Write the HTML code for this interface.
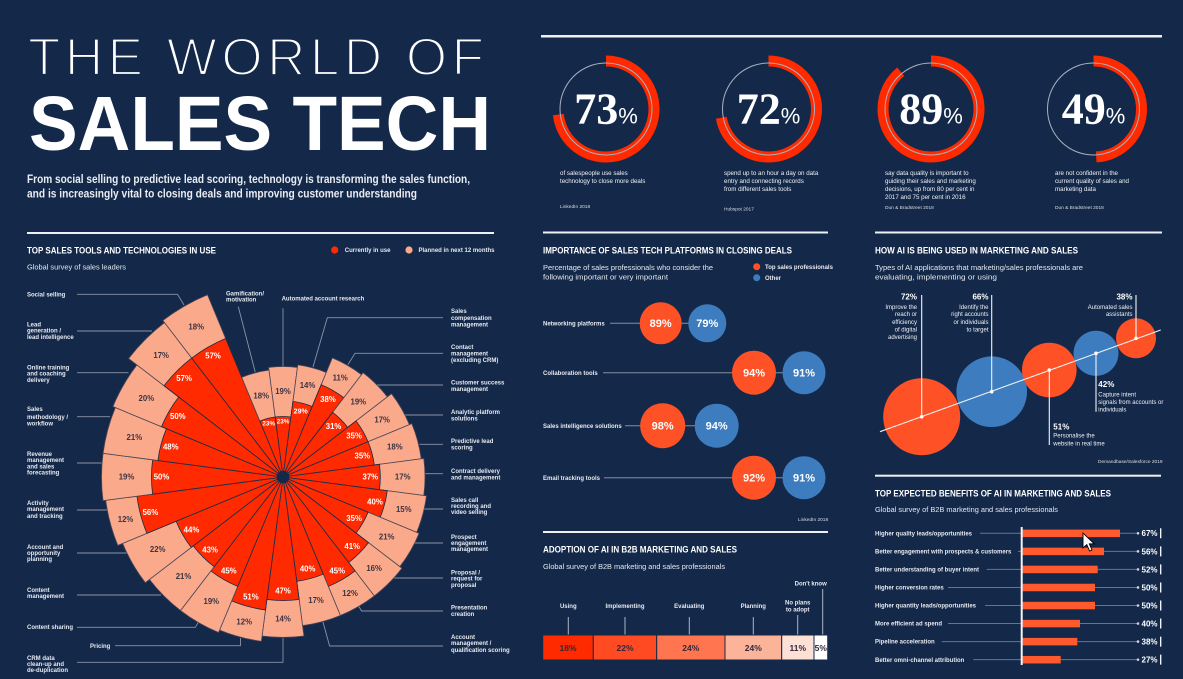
<!DOCTYPE html>
<html><head><meta charset="utf-8">
<style>
html,body{margin:0;padding:0;background:#14294a;}
svg{display:block;}
text{font-family:"Liberation Sans",sans-serif;}
.h{font-size:9.3px;font-weight:bold;fill:#fff;}
.s{font-size:7px;fill:#e4e8ee;}
.l{font-size:6px;font-weight:bold;fill:#e6e9ef;}
.n{font-size:6.2px;fill:#eef1f5;}
.src{font-size:4.8px;fill:#d9dee6;}
.ln{stroke:#8a93a3;stroke-width:0.9;fill:none;}
.ln2{stroke:#66738a;stroke-width:1.3;fill:none;}
.pe{fill:#fba98b;stroke:#4a4656;stroke-width:0.8;}
.re{fill:#ff2a00;stroke:#1b2a45;stroke-width:0.8;}
.pl{font-size:7.8px;font-weight:bold;fill:#3b3443;text-anchor:middle;}
.rl{font-size:7.8px;font-weight:bold;fill:#fff;text-anchor:middle;}
.bt{font-size:11px;font-weight:bold;fill:#fff;text-anchor:middle;}
.al{font-size:6px;font-weight:bold;fill:#e6e9ef;text-anchor:middle;}
.av{font-size:8.5px;font-weight:bold;fill:#33283a;text-anchor:middle;}
.vt{font-size:8px;font-weight:bold;fill:#fff;}
.ct{font-size:8px;font-weight:bold;fill:#fff;}
.cn{font-size:6px;fill:#eef1f5;}
.big{font-family:"Liberation Serif",serif;font-weight:bold;font-size:44px;fill:#fff;}
</style></head><body>
<svg width="1183" height="679" viewBox="0 0 1183 679" xmlns="http://www.w3.org/2000/svg">
<rect width="1183" height="679" fill="#14294a"/>

<!-- HEADER -->
<text x="28" y="75" font-size="53" textLength="456" lengthAdjust="spacing" fill="#fff" stroke="#14294a" stroke-width="2.2">THE WORLD OF</text>
<text x="29" y="150" font-size="77" font-weight="bold" textLength="462" lengthAdjust="spacingAndGlyphs" fill="#fff">SALES TECH</text>
<text x="27" y="183" font-size="11.5" font-weight="bold" fill="#e9ecf1" textLength="443" lengthAdjust="spacingAndGlyphs">From social selling to predictive lead scoring, technology is transforming the sales function,</text>
<text x="27" y="197.5" font-size="11.5" font-weight="bold" fill="#e9ecf1" textLength="390" lengthAdjust="spacingAndGlyphs">and is increasingly vital to closing deals and improving customer understanding</text>

<rect x="541" y="35" width="621" height="2.5" fill="#eef0f3"/>

<!-- DONUTS -->
<g fill="none">
<circle cx="606" cy="109" r="48" stroke="#ff2a00" stroke-width="11" stroke-dasharray="220.2 400" transform="rotate(-90 606 109)"/>
<circle cx="606" cy="109" r="46" stroke="#aab2bf" stroke-width="1"/>
<circle cx="768.5" cy="109" r="48" stroke="#ff2a00" stroke-width="11" stroke-dasharray="217.1 400" transform="rotate(-90 768.5 109)"/>
<circle cx="768.5" cy="109" r="46" stroke="#aab2bf" stroke-width="1"/>
<circle cx="931" cy="109" r="48" stroke="#ff2a00" stroke-width="11" stroke-dasharray="268.4 400" transform="rotate(-90 931 109)"/>
<circle cx="931" cy="109" r="46" stroke="#aab2bf" stroke-width="1"/>
<circle cx="1093.5" cy="109" r="48" stroke="#ff2a00" stroke-width="11" stroke-dasharray="147.8 400" transform="rotate(-90 1093.5 109)"/>
<circle cx="1093.5" cy="109" r="46" stroke="#aab2bf" stroke-width="1"/>
</g>
<text class="big" x="606" y="123.5" text-anchor="middle">73<tspan font-size="22" font-family="Liberation Sans" font-weight="normal">%</tspan></text>
<text class="big" x="768.5" y="123.5" text-anchor="middle">72<tspan font-size="22" font-family="Liberation Sans" font-weight="normal">%</tspan></text>
<text class="big" x="931" y="123.5" text-anchor="middle">89<tspan font-size="22" font-family="Liberation Sans" font-weight="normal">%</tspan></text>
<text class="big" x="1093.5" y="123.5" text-anchor="middle">49<tspan font-size="22" font-family="Liberation Sans" font-weight="normal">%</tspan></text>

<text class="n" x="560" y="175">of salespeople use sales</text>
<text class="n" x="560" y="183">technology to close more deals</text>
<text class="src" x="560" y="208">LinkedIn 2018</text>

<text class="n" x="724" y="175">spend up to an hour a day on data</text>
<text class="n" x="724" y="183">entry and connecting records</text>
<text class="n" x="724" y="191">from different sales tools</text>
<text class="src" x="724" y="210.5">Hubspot 2017</text>

<text class="n" x="885" y="175">say data quality is important to</text>
<text class="n" x="885" y="183">guiding their sales and marketing</text>
<text class="n" x="885" y="191">decisions, up from 80 per cent in</text>
<text class="n" x="885" y="199">2017 and 75 per cent in 2016</text>
<text class="src" x="885" y="209">Dun &amp; Bradstreet 2018</text>

<text class="n" x="1055" y="175">are not confident in the</text>
<text class="n" x="1055" y="183">current quality of sales and</text>
<text class="n" x="1055" y="191">marketing data</text>
<text class="src" x="1055" y="209">Dun &amp; Bradstreet 2018</text>

<!-- LEFT SECTION -->
<rect x="27" y="232" width="467" height="2" fill="#eef0f3"/>
<text class="h" x="27" y="253.5" textLength="189" lengthAdjust="spacingAndGlyphs">TOP SALES TOOLS AND TECHNOLOGIES IN USE</text>
<circle cx="334.7" cy="250" r="3.6" fill="#ff2a00"/>
<text class="l" x="344.8" y="252.2">Currently in use</text>
<circle cx="409" cy="250" r="3.6" fill="#fba98b"/>
<text class="l" x="418.5" y="252.2">Planned in next 12 months</text>
<text class="s" x="27" y="269.5" textLength="99" lengthAdjust="spacingAndGlyphs">Global survey of sales leaders</text>

<!-- leader lines -->
<path class="ln" d="M77 294.3H177.5L184 305"/>
<path class="ln" d="M77 331H152"/>
<path class="ln" d="M77 372.7H128.5"/>
<path class="ln" d="M77 416.7H110"/>
<path class="ln" d="M77 463H101.5"/>
<path class="ln" d="M77 510H107"/>
<path class="ln" d="M77 553H127"/>
<path class="ln" d="M77 595H161"/>
<path class="ln" d="M77 627.3H195.4L199.5 620"/>
<path class="ln" d="M115 645.7H240.5V638"/>
<path class="ln" d="M77 662.3H283V638"/>
<path class="ln" d="M238.3 306.7L255.2 372"/>
<path class="ln" d="M283 308.3V366.5"/>
<path class="ln" d="M443 317.7H327.3L313 367"/>
<path class="ln" d="M443 353.3H355L348 364.5"/>
<path class="ln" d="M443 385H376"/>
<path class="ln" d="M443 415H404"/>
<path class="ln" d="M443 444.3H419.5"/>
<path class="ln" d="M443 473.7H425"/>
<path class="ln" d="M443 509H423"/>
<path class="ln" d="M443 543H414"/>
<path class="ln" d="M443 578H393"/>
<path class="ln" d="M443 611H361.7L358.5 606"/>
<path class="ln" d="M443 646H329.6L323 622"/>

<!-- left labels -->
<text class="l" x="27" y="296.4">Social selling</text>
<text class="l" x="27" y="326.4">Lead</text>
<text class="l" x="27" y="332.4">generation /</text>
<text class="l" x="27" y="338.8">lead intelligence</text>
<text class="l" x="27" y="369.4">Online training</text>
<text class="l" x="27" y="375.4">and coaching</text>
<text class="l" x="27" y="382.1">delivery</text>
<text class="l" x="27" y="411.1">Sales</text>
<text class="l" x="27" y="418.8">methodology /</text>
<text class="l" x="27" y="425.4">workflow</text>
<text class="l" x="27" y="456.1">Revenue</text>
<text class="l" x="27" y="462.1">management</text>
<text class="l" x="27" y="468.4">and sales</text>
<text class="l" x="27" y="474.4">forecasting</text>
<text class="l" x="27" y="505.1">Activity</text>
<text class="l" x="27" y="511.1">management</text>
<text class="l" x="27" y="517.8">and tracking</text>
<text class="l" x="27" y="548.8">Account and</text>
<text class="l" x="27" y="555.1">opportunity</text>
<text class="l" x="27" y="561.1">planning</text>
<text class="l" x="27" y="591.8">Content</text>
<text class="l" x="27" y="597.8">management</text>
<text class="l" x="27" y="628.8">Content sharing</text>
<text class="l" x="90" y="647.8">Pricing</text>
<text class="l" x="27" y="660.1">CRM data</text>
<text class="l" x="27" y="666.1">clean-up and</text>
<text class="l" x="27" y="671.8">de-duplication</text>

<text class="l" x="226" y="295.4">Gamification/</text>
<text class="l" x="226" y="301.4">motivation</text>
<text class="l" x="281.6" y="300.4">Automated account research</text>

<text class="l" x="451" y="313.1">Sales</text>
<text class="l" x="451" y="319.8">compensation</text>
<text class="l" x="451" y="326.4">management</text>
<text class="l" x="451" y="348.8">Contact</text>
<text class="l" x="451" y="355.4">management</text>
<text class="l" x="451" y="362.1">(excluding CRM)</text>
<text class="l" x="451" y="384.4">Customer success</text>
<text class="l" x="451" y="391.1">management</text>
<text class="l" x="451" y="413.8">Analytic platform</text>
<text class="l" x="451" y="420.4">solutions</text>
<text class="l" x="451" y="443.1">Predictive lead</text>
<text class="l" x="451" y="449.4">scoring</text>
<text class="l" x="451" y="472.8">Contract delivery</text>
<text class="l" x="451" y="479.4">and management</text>
<text class="l" x="451" y="501.8">Sales call</text>
<text class="l" x="451" y="507.8">recording and</text>
<text class="l" x="451" y="513.8">video selling</text>
<text class="l" x="451" y="538.8">Prospect</text>
<text class="l" x="451" y="545.1">engagement</text>
<text class="l" x="451" y="551.1">management</text>
<text class="l" x="451" y="574.4">Proposal /</text>
<text class="l" x="451" y="580.4">request for</text>
<text class="l" x="451" y="587.1">proposal</text>
<text class="l" x="451" y="609.4">Presentation</text>
<text class="l" x="451" y="616.1">creation</text>
<text class="l" x="451" y="638.8">Account</text>
<text class="l" x="451" y="645.1">management /</text>
<text class="l" x="451" y="651.8">qualification scoring</text>

<!-- RADIAL CHART -->
<g transform="translate(283 477)">
<g transform="rotate(0)"><path class="pe" d="M0 0L-14.42 -109.55A110.5 110.5 0 0 1 14.42 -109.55Z"/><path class="re" d="M0 0L-7.9 -59.98A60.5 60.5 0 0 1 7.9 -59.98Z"/><text class="pl" transform="translate(0 -85.5) rotate(0)" y="2.7">19%</text><text class="rl" style="font-size:6.3px" transform="translate(0 -55.5) rotate(0)" y="2.2">23%</text></g>
<g transform="rotate(15)"><path class="pe" d="M0 0L-14.76 -112.13A113.1 113.1 0 0 1 14.76 -112.13Z"/><path class="re" d="M0 0L-9.96 -75.65A76.3 76.3 0 0 1 9.96 -75.65Z"/><text class="pl" transform="translate(0 -94.7) rotate(-15)" y="2.7">14%</text><text class="rl" style="font-size:7px" transform="translate(0 -68.3) rotate(-15)" y="2.4">29%</text></g>
<g transform="rotate(30)"><path class="pe" d="M0 0L-16.83 -127.8A128.9 128.9 0 0 1 16.83 -127.8Z"/><path class="re" d="M0 0L-13.04 -99.04A99.9 99.9 0 0 1 13.04 -99.04Z"/><text class="pl" transform="translate(0 -114.4) rotate(-30)" y="2.7">11%</text><text class="rl" transform="translate(0 -89.9) rotate(-30)" y="2.7">38%</text></g>
<g transform="rotate(45)"><path class="pe" d="M0 0L-17.16 -130.38A131.5 131.5 0 0 1 17.16 -130.38Z"/><path class="re" d="M0 0L-10.64 -80.8A81.5 81.5 0 0 1 10.64 -80.8Z"/><text class="pl" transform="translate(0 -106.5) rotate(-45)" y="2.7">19%</text><text class="rl" transform="translate(0 -71.5) rotate(-45)" y="2.7">31%</text></g>
<g transform="rotate(60)"><path class="pe" d="M0 0L-17.86 -135.63A136.8 136.8 0 0 1 17.86 -135.63Z"/><path class="re" d="M0 0L-12.02 -91.31A92.1 92.1 0 0 1 12.02 -91.31Z"/><text class="pl" transform="translate(0 -114.5) rotate(-60)" y="2.7">17%</text><text class="rl" transform="translate(0 -82.1) rotate(-60)" y="2.7">35%</text></g>
<g transform="rotate(75)"><path class="pe" d="M0 0L-18.2 -138.21A139.4 139.4 0 0 1 18.2 -138.21Z"/><path class="re" d="M0 0L-12.02 -91.31A92.1 92.1 0 0 1 12.02 -91.31Z"/><text class="pl" transform="translate(0 -115.8) rotate(-75)" y="2.7">18%</text><text class="rl" transform="translate(0 -82.1) rotate(-75)" y="2.7">35%</text></g>
<g transform="rotate(90)"><path class="pe" d="M0 0L-18.54 -140.78A142 142 0 0 1 18.54 -140.78Z"/><path class="re" d="M0 0L-12.7 -96.47A97.3 97.3 0 0 1 12.7 -96.47Z"/><text class="pl" transform="translate(0 -119.7) rotate(-90)" y="2.7">17%</text><text class="rl" transform="translate(0 -87.3) rotate(-90)" y="2.7">37%</text></g>
<g transform="rotate(105)"><path class="pe" d="M0 0L-18.89 -143.46A144.7 144.7 0 0 1 18.89 -143.46Z"/><path class="re" d="M0 0L-13.73 -104.3A105.2 105.2 0 0 1 13.73 -104.3Z"/><text class="pl" transform="translate(0 -125) rotate(-105)" y="2.7">15%</text><text class="rl" transform="translate(0 -95.2) rotate(-105)" y="2.7">40%</text></g>
<g transform="rotate(120)"><path class="pe" d="M0 0L-19.23 -146.04A147.3 147.3 0 0 1 19.23 -146.04Z"/><path class="re" d="M0 0L-12.02 -91.31A92.1 92.1 0 0 1 12.02 -91.31Z"/><text class="pl" transform="translate(0 -119.7) rotate(-120)" y="2.7">21%</text><text class="rl" transform="translate(0 -82.1) rotate(-120)" y="2.7">35%</text></g>
<g transform="rotate(135)"><path class="pe" d="M0 0L-19.57 -148.62A149.9 149.9 0 0 1 19.57 -148.62Z"/><path class="re" d="M0 0L-14.07 -106.88A107.8 107.8 0 0 1 14.07 -106.88Z"/><text class="pl" transform="translate(0 -128.9) rotate(-135)" y="2.7">16%</text><text class="rl" transform="translate(0 -97.8) rotate(-135)" y="2.7">41%</text></g>
<g transform="rotate(150)"><path class="pe" d="M0 0L-19.57 -148.62A149.9 149.9 0 0 1 19.57 -148.62Z"/><path class="re" d="M0 0L-15.45 -117.39A118.4 118.4 0 0 1 15.45 -117.39Z"/><text class="pl" transform="translate(0 -134.2) rotate(-150)" y="2.7">12%</text><text class="rl" transform="translate(0 -108.4) rotate(-150)" y="2.7">45%</text></g>
<g transform="rotate(165)"><path class="pe" d="M0 0L-19.57 -148.62A149.9 149.9 0 0 1 19.57 -148.62Z"/><path class="re" d="M0 0L-13.73 -104.3A105.2 105.2 0 0 1 13.73 -104.3Z"/><text class="pl" transform="translate(0 -127.6) rotate(-165)" y="2.7">17%</text><text class="rl" transform="translate(0 -95.2) rotate(-165)" y="2.7">40%</text></g>
<g transform="rotate(180)"><path class="pe" d="M0 0L-20.94 -159.03A160.4 160.4 0 0 1 20.94 -159.03Z"/><path class="re" d="M0 0L-16.13 -122.54A123.6 123.6 0 0 1 16.13 -122.54Z"/><text class="pl" transform="translate(0 -142) rotate(-180)" y="2.7">14%</text><text class="rl" transform="translate(0 -113.6) rotate(-180)" y="2.7">47%</text></g>
<g transform="rotate(195)"><path class="pe" d="M0 0L-21.63 -164.28A165.7 165.7 0 0 1 21.63 -164.28Z"/><path class="re" d="M0 0L-17.5 -132.95A134.1 134.1 0 0 1 17.5 -132.95Z"/><text class="pl" transform="translate(0 -149.9) rotate(-195)" y="2.7">12%</text><text class="rl" transform="translate(0 -124.1) rotate(-195)" y="2.7">51%</text></g>
<g transform="rotate(210)"><path class="pe" d="M0 0L-21.97 -166.86A168.3 168.3 0 0 1 21.97 -166.86Z"/><path class="re" d="M0 0L-15.45 -117.39A118.4 118.4 0 0 1 15.45 -117.39Z"/><text class="pl" transform="translate(0 -143.4) rotate(-210)" y="2.7">19%</text><text class="rl" transform="translate(0 -108.4) rotate(-210)" y="2.7">45%</text></g>
<g transform="rotate(225)"><path class="pe" d="M0 0L-21.97 -166.86A168.3 168.3 0 0 1 21.97 -166.86Z"/><path class="re" d="M0 0L-14.76 -112.13A113.1 113.1 0 0 1 14.76 -112.13Z"/><text class="pl" transform="translate(0 -140.7) rotate(-225)" y="2.7">21%</text><text class="rl" transform="translate(0 -103.1) rotate(-225)" y="2.7">43%</text></g>
<g transform="rotate(240)"><path class="pe" d="M0 0L-22.66 -172.11A173.6 173.6 0 0 1 22.66 -172.11Z"/><path class="re" d="M0 0L-15.1 -114.71A115.7 115.7 0 0 1 15.1 -114.71Z"/><text class="pl" transform="translate(0 -144.7) rotate(-240)" y="2.7">22%</text><text class="rl" transform="translate(0 -105.7) rotate(-240)" y="2.7">44%</text></g>
<g transform="rotate(255)"><path class="pe" d="M0 0L-23.34 -177.27A178.8 178.8 0 0 1 23.34 -177.27Z"/><path class="re" d="M0 0L-19.23 -146.04A147.3 147.3 0 0 1 19.23 -146.04Z"/><text class="pl" transform="translate(0 -163) rotate(-255)" y="2.7">12%</text><text class="rl" transform="translate(0 -137.3) rotate(-255)" y="2.7">56%</text></g>
<g transform="rotate(270)"><path class="pe" d="M0 0L-23.69 -179.95A181.5 181.5 0 0 1 23.69 -179.95Z"/><path class="re" d="M0 0L-17.16 -130.38A131.5 131.5 0 0 1 17.16 -130.38Z"/><text class="pl" transform="translate(0 -156.5) rotate(-270)" y="2.7">19%</text><text class="rl" transform="translate(0 -121.5) rotate(-270)" y="2.7">50%</text></g>
<g transform="rotate(285)"><path class="pe" d="M0 0L-23.69 -179.95A181.5 181.5 0 0 1 23.69 -179.95Z"/><path class="re" d="M0 0L-16.47 -125.12A126.2 126.2 0 0 1 16.47 -125.12Z"/><text class="pl" transform="translate(0 -153.9) rotate(-285)" y="2.7">21%</text><text class="rl" transform="translate(0 -116.2) rotate(-285)" y="2.7">48%</text></g>
<g transform="rotate(300)"><path class="pe" d="M0 0L-24.03 -182.52A184.1 184.1 0 0 1 24.03 -182.52Z"/><path class="re" d="M0 0L-17.16 -130.38A131.5 131.5 0 0 1 17.16 -130.38Z"/><text class="pl" transform="translate(0 -157.8) rotate(-300)" y="2.7">20%</text><text class="rl" transform="translate(0 -121.5) rotate(-300)" y="2.7">50%</text></g>
<g transform="rotate(315)"><path class="pe" d="M0 0L-25.4 -192.93A194.6 194.6 0 0 1 25.4 -192.93Z"/><path class="re" d="M0 0L-19.57 -148.62A149.9 149.9 0 0 1 19.57 -148.62Z"/><text class="pl" transform="translate(0 -172.3) rotate(-315)" y="2.7">17%</text><text class="rl" transform="translate(0 -139.9) rotate(-315)" y="2.7">57%</text></g>
<g transform="rotate(330)"><path class="pe" d="M0 0L-25.75 -195.61A197.3 197.3 0 0 1 25.75 -195.61Z"/><path class="re" d="M0 0L-19.57 -148.62A149.9 149.9 0 0 1 19.57 -148.62Z"/><text class="pl" transform="translate(0 -173.6) rotate(-330)" y="2.7">18%</text><text class="rl" transform="translate(0 -139.9) rotate(-330)" y="2.7">57%</text></g>
<g transform="rotate(345)"><path class="pe" d="M0 0L-14.07 -106.88A107.8 107.8 0 0 1 14.07 -106.88Z"/><path class="re" d="M0 0L-7.9 -59.98A60.5 60.5 0 0 1 7.9 -59.98Z"/><text class="pl" transform="translate(0 -84.2) rotate(-345)" y="2.7">18%</text><text class="rl" style="font-size:6.3px" transform="translate(0 -55.5) rotate(-345)" y="2.2">23%</text></g>
<circle cx="0" cy="0" r="6.3" fill="#14294a"/>
</g>

<!-- MIDDLE: IMPORTANCE -->
<rect x="543" y="231.5" width="285" height="2" fill="#eef0f3"/>
<text class="h" x="543" y="253.5" textLength="249" lengthAdjust="spacingAndGlyphs">IMPORTANCE OF SALES TECH PLATFORMS IN CLOSING DEALS</text>
<text class="s" x="543" y="270" textLength="170" lengthAdjust="spacingAndGlyphs">Percentage of sales professionals who consider the</text>
<text class="s" x="543" y="279.3" textLength="125" lengthAdjust="spacingAndGlyphs">following important or very important</text>
<circle cx="756.7" cy="266.7" r="3.5" fill="#ff5126"/>
<text class="l" x="765" y="268.8">Top sales professionals</text>
<circle cx="756.7" cy="277.7" r="3.5" fill="#3d7dbf"/>
<text class="l" x="765" y="279.8">Other</text>

<text class="l" x="543" y="325.4">Networking platforms</text>
<path class="ln2" d="M610 323.3H707"/>
<circle cx="660.7" cy="323.3" r="21" fill="#ff5126"/>
<circle cx="707.3" cy="323.3" r="19" fill="#3d7dbf"/>
<text class="bt" x="660.7" y="327.2">89%</text>
<text class="bt" x="707.3" y="327.2">79%</text>

<text class="l" x="543" y="374.8">Collaboration tools</text>
<path class="ln2" d="M603 372.7H804"/>
<circle cx="754" cy="372.7" r="22" fill="#ff5126"/>
<circle cx="804" cy="372.7" r="21.5" fill="#3d7dbf"/>
<text class="bt" x="754" y="376.6">94%</text>
<text class="bt" x="804" y="376.6">91%</text>

<text class="l" x="543" y="427.8">Sales intelligence solutions</text>
<path class="ln2" d="M625 425.7H717"/>
<circle cx="662.7" cy="425.7" r="22.5" fill="#ff5126"/>
<circle cx="716.7" cy="425.7" r="22" fill="#3d7dbf"/>
<text class="bt" x="662.7" y="429.6">98%</text>
<text class="bt" x="716.7" y="429.6">94%</text>

<text class="l" x="543" y="479.8">Email tracking tools</text>
<path class="ln2" d="M604 477.7H804"/>
<circle cx="754" cy="477.7" r="22" fill="#ff5126"/>
<circle cx="804" cy="477.7" r="21.5" fill="#3d7dbf"/>
<text class="bt" x="754" y="481.6">92%</text>
<text class="bt" x="804" y="481.6">91%</text>
<text class="src" x="798" y="521">LinkedIn 2018</text>

<!-- MIDDLE: ADOPTION -->
<rect x="543" y="531" width="285" height="2" fill="#eef0f3"/>
<text class="h" x="543" y="552.5" textLength="194" lengthAdjust="spacingAndGlyphs">ADOPTION OF AI IN B2B MARKETING AND SALES</text>
<text class="s" x="543" y="569" textLength="182" lengthAdjust="spacingAndGlyphs">Global survey of B2B marketing and sales professionals</text>
<text class="al" x="568.3" y="608">Using</text>
<text class="al" x="625" y="608">Implementing</text>
<text class="al" x="689.3" y="608">Evaluating</text>
<text class="al" x="753.3" y="608">Planning</text>
<text class="al" x="797.7" y="604.5">No plans</text>
<text class="al" x="797.7" y="611.5">to adopt</text>
<text class="al" x="810.7" y="585.5">Don't know</text>
<g stroke="#aeb5c2" stroke-width="1">
<path d="M568.3 617V635M625 617V635M689.3 617V635M753.3 617V635M797.7 615V635M822.7 589V635"/>
</g>
<g stroke="#14294a" stroke-width="1">
<rect x="542.7" y="635" width="50.6" height="25" fill="#ff2a00"/>
<rect x="593.3" y="635" width="63.4" height="25" fill="#ff4a22"/>
<rect x="656.7" y="635" width="68.3" height="25" fill="#ff7550"/>
<rect x="725" y="635" width="56.7" height="25" fill="#fbb39a"/>
<rect x="781.7" y="635" width="32.3" height="25" fill="#fde1d6"/>
<rect x="814" y="635" width="13.7" height="25" fill="#ffffff"/>
</g>
<text class="av" x="568" y="651">18%</text>
<text class="av" x="625" y="651">22%</text>
<text class="av" x="690.8" y="651">24%</text>
<text class="av" x="753.3" y="651">24%</text>
<text class="av" x="797.8" y="651">11%</text>
<text class="av" x="820.8" y="651">5%</text>

<!-- RIGHT: HOW AI -->
<rect x="875" y="231.5" width="287" height="2" fill="#eef0f3"/>
<text class="h" x="875" y="253.5" textLength="203" lengthAdjust="spacingAndGlyphs">HOW AI IS BEING USED IN MARKETING AND SALES</text>
<text class="s" x="875" y="270" textLength="208" lengthAdjust="spacingAndGlyphs">Types of AI applications that marketing/sales professionals are</text>
<text class="s" x="875" y="279.3" textLength="122" lengthAdjust="spacingAndGlyphs">evaluating, implementing or using</text>

<circle cx="921.7" cy="416.7" r="38.5" fill="#ff5126"/>
<circle cx="991.7" cy="391.7" r="35.3" fill="#3d7dbf"/>
<circle cx="1049.3" cy="370" r="27.3" fill="#ff5126"/>
<circle cx="1096" cy="353.3" r="22.5" fill="#3d7dbf"/>
<circle cx="1136" cy="338.3" r="20" fill="#ff5126"/>
<g stroke="#f2f4f7" stroke-width="1.1" fill="none">
<path d="M880 431.7L1160.7 330"/>
<path d="M921.7 295V416.7M991.7 295V391.7M1136 295V338.3M1049.3 370V445M1096 353.3V411.7"/>
</g>
<g fill="#fff">
<circle cx="921.7" cy="416.7" r="1.8"/><circle cx="991.7" cy="391.7" r="1.8"/><circle cx="1049.3" cy="370" r="1.8"/><circle cx="1096" cy="353.3" r="1.8"/><circle cx="1136" cy="338.3" r="1.8"/>
</g>
<g text-anchor="end">
<text class="ct" x="917" y="299.5">72%</text>
<text class="cn" x="917" y="308.8">Improve the</text>
<text class="cn" x="917" y="316.1">reach or</text>
<text class="cn" x="917" y="323.8">efficiency</text>
<text class="cn" x="917" y="331.4">of digital</text>
<text class="cn" x="917" y="338.8">advertising</text>
<text class="ct" x="988.5" y="299.5">66%</text>
<text class="cn" x="988.5" y="308.8">Identify the</text>
<text class="cn" x="988.5" y="316.1">right accounts</text>
<text class="cn" x="988.5" y="323.8">or individuals</text>
<text class="cn" x="988.5" y="331.4">to target</text>
<text class="ct" x="1132.5" y="299.5">38%</text>
<text class="cn" x="1132.5" y="308.8">Automated sales</text>
<text class="cn" x="1132.5" y="316.1">assistants</text>
</g>
<text class="ct" x="1053.3" y="429.5">51%</text>
<text class="cn" x="1053.3" y="437.5">Personalise the</text>
<text class="cn" x="1053.3" y="445.5">website in real time</text>
<text class="ct" x="1098.3" y="387">42%</text>
<text class="cn" x="1098.3" y="396.5">Capture intent</text>
<text class="cn" x="1098.3" y="404">signals from accounts or</text>
<text class="cn" x="1098.3" y="411.5">individuals</text>
<text class="src" x="1098" y="463">Demandbase/Salesforce 2019</text>

<!-- RIGHT: BENEFITS -->
<rect x="875" y="474.7" width="286" height="2" fill="#eef0f3"/>
<text class="h" x="875" y="496.5" textLength="236" lengthAdjust="spacingAndGlyphs">TOP EXPECTED BENEFITS OF AI IN MARKETING AND SALES</text>
<text class="s" x="875" y="512" textLength="183" lengthAdjust="spacingAndGlyphs">Global survey of B2B marketing and sales professionals</text>

<g class="ln2" style="stroke-width:1">
<path d="M980 533.3H1138M1018 551.35H1138M986.7 569.4H1138M948 587.45H1138M985 605.5H1138M948 623.55H1138M941.7 641.6H1138M973.3 659.65H1138"/>
</g>
<g fill="#ff5a2e">
<rect x="1022" y="529.6" width="98" height="7.5"/>
<rect x="1022" y="547.65" width="82" height="7.5"/>
<rect x="1022" y="565.7" width="75.7" height="7.5"/>
<rect x="1022" y="583.75" width="73" height="7.5"/>
<rect x="1022" y="601.8" width="73" height="7.5"/>
<rect x="1022" y="619.85" width="58" height="7.5"/>
<rect x="1022" y="637.9" width="55.3" height="7.5"/>
<rect x="1022" y="655.95" width="38.7" height="7.5"/>
</g>
<rect x="1020.7" y="527" width="2" height="138" fill="#f2f4f7"/>
<g fill="#cfd4dc">
<circle cx="1138" cy="533.3" r="1.3"/><circle cx="1138" cy="551.35" r="1.3"/><circle cx="1138" cy="569.4" r="1.3"/><circle cx="1138" cy="587.45" r="1.3"/><circle cx="1138" cy="605.5" r="1.3"/><circle cx="1138" cy="623.55" r="1.3"/><circle cx="1138" cy="641.6" r="1.3"/><circle cx="1138" cy="659.65" r="1.3"/>
</g>
<text class="l" x="875" y="535.4">Higher quality leads/opportunities</text>
<text class="l" x="875" y="553.45">Better engagement with prospects &amp; customers</text>
<text class="l" x="875" y="571.5">Better understanding of buyer intent</text>
<text class="l" x="875" y="589.55">Higher conversion rates</text>
<text class="l" x="875" y="607.6">Higher quantity leads/opportunities</text>
<text class="l" x="875" y="625.65">More efficient ad spend</text>
<text class="l" x="875" y="643.7">Pipeline acceleration</text>
<text class="l" x="875" y="661.75">Better omni-channel attribution</text>
<text class="vt" x="1141.5" y="536.2">67%</text>
<text class="vt" x="1141.5" y="554.25">56%</text>
<text class="vt" x="1141.5" y="572.3">52%</text>
<text class="vt" x="1141.5" y="590.35">50%</text>
<text class="vt" x="1141.5" y="608.4">50%</text>
<text class="vt" x="1141.5" y="626.45">40%</text>
<text class="vt" x="1141.5" y="644.5">38%</text>
<text class="vt" x="1141.5" y="662.55">27%</text>
<g stroke="#fff" stroke-width="1.3">
<path d="M1160.7 528.3V538.3M1160.7 546.35V556.35M1160.7 564.4V574.4M1160.7 582.45V592.45M1160.7 600.5V610.5M1160.7 618.55V628.55M1160.7 636.6V646.6M1160.7 654.65V664.65"/>
</g>

<!-- cursor -->
<polygon points="1083,533 1083,548 1086.8,544.6 1089.6,551 1092,550 1089.3,543.8 1094.2,543.8" fill="#fff" stroke="#000" stroke-width="0.9"/>
</svg>
</body></html>
